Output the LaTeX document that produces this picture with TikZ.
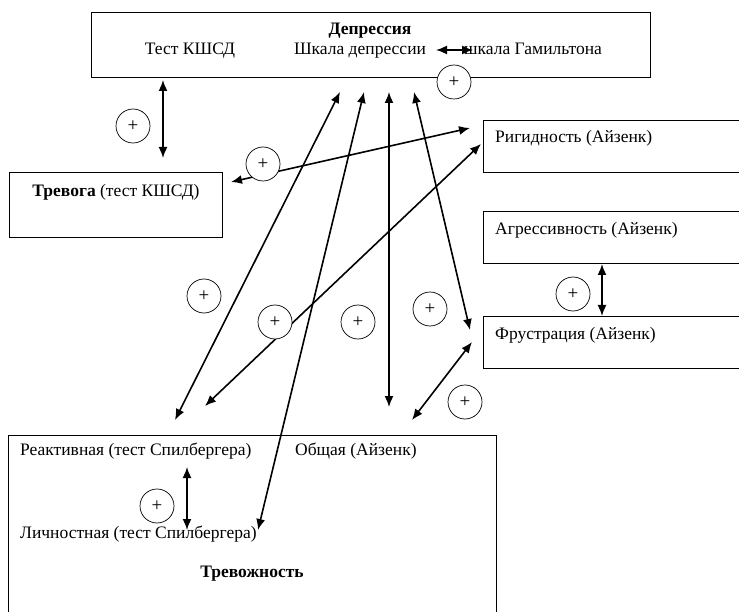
\documentclass[tikz,border=0pt]{standalone}
\usepackage{fontspec}
\setmainfont{Liberation Serif}
\usetikzlibrary{arrows.meta}

\begin{document}
\begin{tikzpicture}[x=1pt, y=-1pt,
    box/.style={draw, line width=0.9pt, rectangle, anchor=north west, inner sep=0pt},
    lbl/.style={anchor=base west, inner sep=0pt, font=\fontsize{17.5}{21}\selectfont},
    link/.style={{Latex[length=11pt,width=9pt]}-{Latex[length=11pt,width=9pt]}, line width=1.6pt},
    plus/.style={draw, circle, line width=0.7pt, minimum size=34pt, inner sep=0pt, fill=white, font=\fontsize{19}{21}\selectfont}]
    \useasboundingbox (0, 0) rectangle (739, 612);
    \clip (0, 0) rectangle (739, 612);

    % boxes
    \node[box, minimum width=559pt, minimum height=65pt] (dep) at (91, 12) {};
    \node[box, minimum width=213pt, minimum height=65pt] (trev) at (9, 172) {};
    \node[box, minimum width=300pt, minimum height=52pt] (rig) at (483, 120) {};
    \node[box, minimum width=300pt, minimum height=52pt] (agr) at (483, 211) {};
    \node[box, minimum width=300pt, minimum height=52pt] (frus) at (483, 316) {};
    \node[box, minimum width=488pt, minimum height=220pt] (trevz) at (8, 435) {};

    % texts
    \node[lbl, anchor=base, font=\fontsize{17.5}{21}\selectfont\bfseries] (depT) at (370, 35) {Депрессия};
    \node[lbl, anchor=base] (kshsd) at (190, 55) {Тест КШСД};
    \node[lbl, anchor=base] (shkD) at (360, 55) {Шкала депрессии};
    \node[lbl] (shkG) at (464, 55) {шкала Гамильтона};
    \node[lbl, anchor=base] (trevT) at (116, 197) {\textbf{Тревога} (тест КШСД)};
    \node[lbl] (rigT) at (495, 143) {Ригидность (Айзенк)};
    \node[lbl] (agrT) at (495, 235) {Агрессивность (Айзенк)};
    \node[lbl] (frusT) at (495, 340) {Фрустрация (Айзенк)};
    \node[lbl] (reakT) at (20, 455) {Реактивная (тест Спилбергера)};
    \node[lbl] (obshT) at (295, 455) {Общая (Айзенк)};
    \node[lbl] (lichT) at (20, 538) {Личностная (тест Спилбергера)};
    \node[lbl, anchor=base, font=\fontsize{17.5}{21}\selectfont\bfseries] (trevzT) at (252, 577) {Тревожность};

    % arrow ends
    \coordinate (d0) at (163, 80);   \coordinate (t0) at (163, 158);
    \coordinate (h1) at (436, 50);   \coordinate (h2) at (473, 50);
    \coordinate (r1) at (470, 128);  \coordinate (t1) at (231, 182);
    \coordinate (r2) at (481, 144);  \coordinate (z1) at (205, 406);
    \coordinate (d1) at (340, 92);   \coordinate (z2) at (175, 420);
    \coordinate (d2) at (364, 92);   \coordinate (z3) at (258, 530);
    \coordinate (d3) at (389, 92);   \coordinate (z4) at (389, 407);
    \coordinate (d4) at (414, 92);   \coordinate (f1) at (470, 330);
    \coordinate (f2) at (472, 342);  \coordinate (z5) at (412, 420);
    \coordinate (a1) at (602, 264);  \coordinate (f3) at (602, 316);
    \coordinate (z6) at (187, 467);  \coordinate (z7) at (187, 530);

    \draw[link] (d0) -- (t0);
    \draw[link] (h1) -- (h2);
    \draw[link] (r1) -- (t1);
    \draw[link] (r2) -- (z1);
    \draw[link] (d1) -- (z2);
    \draw[link] (d2) -- (z3);
    \draw[link] (d3) -- (z4);
    \draw[link] (d4) -- (f1);
    \draw[link] (f2) -- (z5);
    \draw[link] (a1) -- (f3);
    \draw[link] (z6) -- (z7);

    % plus signs
    \node[plus] (p1) at (133, 126) {+};
    \node[plus] (p2) at (263, 164) {+};
    \node[plus] (p3) at (454, 82) {+};
    \node[plus] (p4) at (204, 296) {+};
    \node[plus] (p5) at (275, 322) {+};
    \node[plus] (p6) at (358, 322) {+};
    \node[plus] (p7) at (430, 309) {+};
    \node[plus] (p8) at (573, 294) {+};
    \node[plus] (p9) at (465, 402) {+};
    \node[plus] (p10) at (157, 506) {+};
\end{tikzpicture}
\end{document}
